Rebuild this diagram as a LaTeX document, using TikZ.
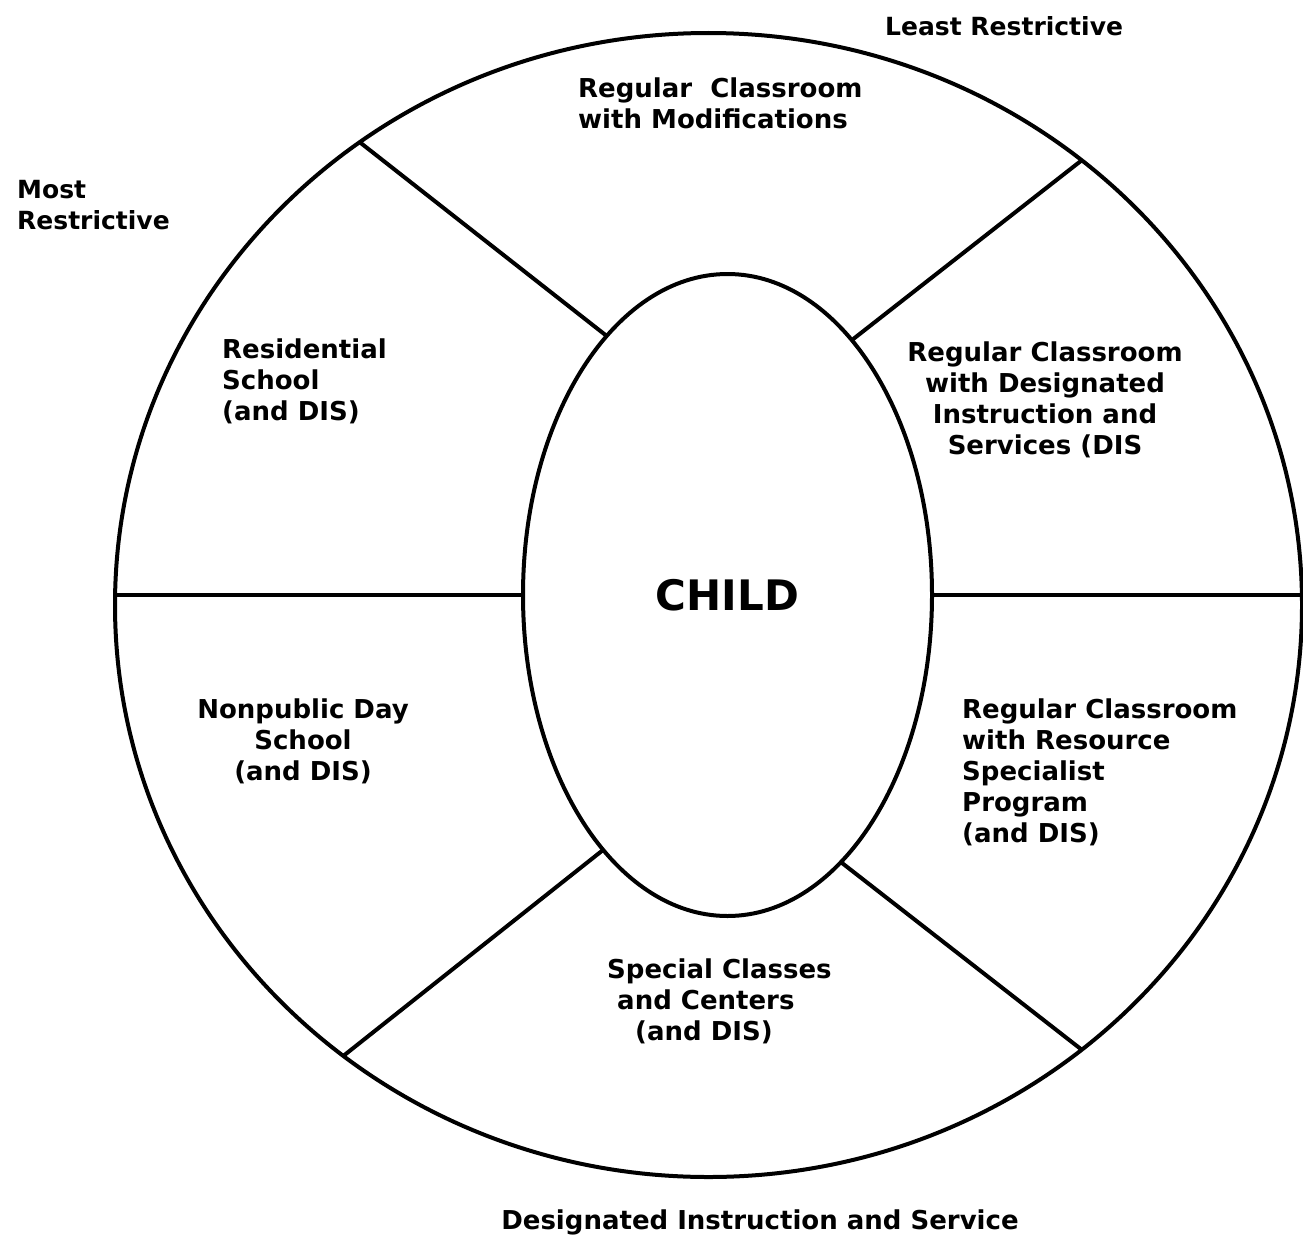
\documentclass[tikz,border=0pt]{standalone}
\usepackage{fontspec}
\setmainfont{DejaVu Sans}
\usetikzlibrary{shapes.geometric}
\tikzstyle{ring} = [ellipse, draw, line width=4pt, inner sep=0pt, outer sep=0pt]
\tikzstyle{wall} = [line width=4pt]
\tikzstyle{zone} = [font=\fontsize{26}{31}\selectfont\bfseries, inner sep=0pt]
\tikzstyle{side} = [font=\fontsize{25}{31}\selectfont\bfseries, inner sep=0pt, align=left]

\begin{document}
\begin{tikzpicture}[x=1pt,y=-1pt]
\useasboundingbox (0,0) rectangle (1303,1239);
\node[ring, minimum width=1187pt, minimum height=1144pt] (outer) at (708.5,605) {};
\node[ring, minimum width=409pt, minimum height=642pt, font=\fontsize{42}{42}\selectfont\bfseries] (child) at (727.5,595) {CHILD};

\draw[wall] (child.115.9) -- (outer.127.1);
\draw[wall] (child.64.1) -- (outer.50.4);
\draw[wall] (child.244.4) -- (outer.231.9);
\draw[wall] (child.293.4) -- (outer.310.2);
\draw[wall] (child.west) -- (child.west -| outer.west);
\draw[wall] (child.east) -- (child.east -| outer.east);

\node[side, anchor=west] (least) at (885,26) {Least Restrictive};
\node[side, anchor=west] (most) at (17,205) {Most\\Restrictive};
\node[zone, anchor=west, align=left] (modif) at (578,103) {Regular\ \ Classroom\\with Modifications};
\node[zone, anchor=west, align=left] (resid) at (222,381) {Residential\\School\\(and DIS)};
\node[zone, align=center] (desig) at (1045,400) {Regular Classroom\\with Designated\\Instruction and\\Services (DIS};
\node[zone, align=center] (nonpub) at (303,741) {Nonpublic Day\\School\\(and DIS)};
\node[zone, anchor=west, align=left] (resource) at (962,772) {Regular Classroom\\with Resource\\Specialist\\Program\\(and DIS)};
\node[zone, anchor=west, align=left] (special) at (607,1001) {Special Classes\\\hspace*{10pt}and Centers\\\hspace*{28pt}(and DIS)};
\node[side, font=\fontsize{26}{31}\selectfont\bfseries] (dis) at (760,1222) {Designated Instruction and Service};
\end{tikzpicture}
\end{document}
